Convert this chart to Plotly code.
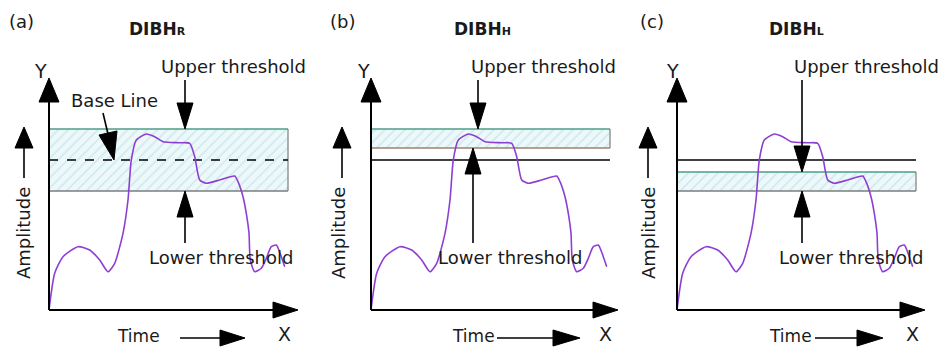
import plotly.graph_objects as go

# ---------------- data (schematic values) ----------------
panel_labels = ["(a)", "(b)", "(c)"]
title_main = ["DIBH", "DIBH", "DIBH"]
title_sub = ["R", "H", "L"]

# breathing-signal curve: time (relative) and amplitude
curve_time = [0, 5.7, 14, 29, 40.7, 50.7, 59, 65.7, 74, 79, 82.3, 87.3, 97.3, 105.7,
              114, 130.7, 140.7, 145.7, 150.7, 157.3, 170.7, 185.7, 189, 194, 197.3,
              200, 201.3, 205.7, 212.3, 217.3, 222.3, 227.3, 232.3, 235.7]
curve_amp = [0, 36.7, 53.3, 63.3, 60, 50, 38.3, 46.7, 76.7, 110, 150, 170, 176, 173.3,
             168.3, 167.3, 166.7, 153.3, 130, 126.7, 130, 134, 128.3, 113.3, 96.7,
             76.7, 50, 38.3, 41.7, 51.7, 63.3, 65, 53.3, 43.3]

upper_threshold = [181, 181, 138]
lower_threshold = [119, 162, 119]
base_line = [150, 150, 150]
base_dash = ["dash", "solid", "solid"]

# ---------------- layout helpers ----------------
W, H = 944, 348
AX_Y = 310  # pixel row of the time axis
axis_x = [49, 371, 677]
band_len = 239
upper_arrow_x = [136, 107, 125]
lower_arrow_x = [136, 102, 125]
upper_text_x = [184, 172, 189]
lower_text_x = [172, 139, 174]
label_x = [-28, -29, -25]
title_x = [108, 111, 119]
y_letter_x = [-9, -8, -5]
ampl_x = [-26, -33, -29]
ampl_arrow_x = [-25, -29, -29]
time_x = [89, 102, 113]
time_arrow = [(131, 171, 196), (126, 182, 209), (138, 180, 206)]
x_letter_x = [235, 234, 235]
x_tip = [249, 247, 248]
bottom_edge_col = ["#7d7d7d", "#a0806e", "#7d7d7d"]

FONT = "DejaVu Sans"
fig = go.Figure()


def line(xs, ys, color="black", width=2, dash="solid"):
    fig.add_trace(go.Scatter(x=xs, y=ys, mode="lines", hoverinfo="skip", showlegend=False,
                             line=dict(color=color, width=width, dash=dash)))


def tri(pts, color="black"):
    xs = [p[0] for p in pts] + [pts[0][0]]
    ys = [p[1] for p in pts] + [pts[0][1]]
    fig.add_trace(go.Scatter(x=xs, y=ys, mode="lines", fill="toself", fillcolor=color,
                             hoverinfo="skip", showlegend=False,
                             line=dict(color=color, width=1)))


def text(x, y, s, size=18, angle=0):
    fig.add_annotation(x=x, y=y, text=s, showarrow=False, textangle=angle,
                       font=dict(family=FONT, size=size, color="#1a1a1a"),
                       xanchor="center", yanchor="middle")


def amp(py):
    return AX_Y - py


for i in range(3):
    ox = axis_x[i]
    up, lo = upper_threshold[i], lower_threshold[i]

    # hatched threshold band
    fig.add_trace(go.Scatter(
        x=[ox, ox + band_len, ox + band_len, ox, ox], y=[lo, lo, up, up, lo],
        mode="lines", fill="toself", hoverinfo="skip", showlegend=False,
        line=dict(width=0, color="rgba(0,0,0,0)"),
        fillpattern=dict(shape="/", fgcolor="#a6d2de", bgcolor="#ecf8f9", size=7, solidity=0.18)))
    line([ox, ox + band_len], [up, up], color="#4f9c86", width=1.3)
    line([ox, ox + band_len], [lo, lo], color=bottom_edge_col[i], width=1.3)
    line([ox + band_len, ox + band_len], [lo, up], color="#7d7d7d", width=1.2)

    # base line
    line([ox, ox + band_len], [base_line[i]] * 2, color="black", width=1.6, dash=base_dash[i])

    # signal curve
    fig.add_trace(go.Scatter(x=[ox + t for t in curve_time], y=curve_amp, mode="lines",
                             hoverinfo="skip", showlegend=False,
                             line=dict(color="#8e3fd3", width=1.6, shape="spline", smoothing=0.6)))

    # axes with arrow heads
    line([ox, ox], [0, amp(102)], width=2)
    tri([(ox - 10, amp(102)), (ox + 10, amp(102)), (ox, amp(78))])
    line([ox, ox + x_tip[i] - 25], [0, 0], width=2)
    tri([(ox + x_tip[i] - 25, 8), (ox + x_tip[i] - 25, -8), (ox + x_tip[i], 0)])

    # upper-threshold arrow (pointing down)
    ux = ox + upper_arrow_x[i]
    line([ux, ux], [amp(80), up + 26], width=1.6)
    tri([(ux - 8, up + 26), (ux + 8, up + 26), (ux, up)])

    # lower-threshold arrow (pointing up)
    lx = ox + lower_arrow_x[i]
    line([lx, lx], [amp(243), lo - 26], width=1.6)
    tri([(lx - 8, lo - 26), (lx + 8, lo - 26), (lx, lo)])

    # amplitude arrow
    ax_ = ox + ampl_arrow_x[i]
    line([ax_, ax_], [amp(178), amp(148)], width=1.6)
    tri([(ax_ - 9, amp(148)), (ax_ + 9, amp(148)), (ax_, amp(127))])

    # time arrow
    t0, th, t1 = time_arrow[i]
    line([ox + t0, ox + th], [amp(338)] * 2, width=1.6)
    tri([(ox + th, amp(330)), (ox + th, amp(346)), (ox + t1, amp(338))])

    # texts
    text(ox + label_x[i], amp(21), panel_labels[i], size=18)
    text(ox + title_x[i], amp(29),
         "<b>" + title_main[i] + "</b><span style='font-size:11px'><b>" + title_sub[i] + "</b></span>",
         size=17)
    text(ox + y_letter_x[i], amp(71), "Y", size=19)
    text(ox + x_letter_x[i], amp(334), "X", size=19)
    text(ox + upper_text_x[i], amp(66), "Upper threshold", size=18)
    text(ox + lower_text_x[i], amp(257), "Lower threshold", size=18)
    text(ox + ampl_x[i], amp(233), "Amplitude", size=18, angle=-90)
    text(ox + time_x[i], amp(336), "Time", size=17)

# base line label and arrow (panel a)
ox = axis_x[0]
text(ox + 65, amp(100), "Base Line", size=18)
line([ox + 54, ox + 59], [amp(113), amp(134)], width=1.6)
tri([(ox + 50, amp(135)), (ox + 68, amp(131)), (ox + 65, base_line[0])])

fig.update_layout(
    width=W, height=H, margin=dict(l=0, r=0, t=0, b=0),
    paper_bgcolor="white", plot_bgcolor="white",
    xaxis=dict(range=[0, W], visible=False, fixedrange=True),
    yaxis=dict(range=[AX_Y - H, AX_Y], visible=False, fixedrange=True),
)
fig.write_html("out.html", config={"displayModeBar": False},
               post_script="document.body.style.margin='0';document.body.style.overflow='hidden';")
